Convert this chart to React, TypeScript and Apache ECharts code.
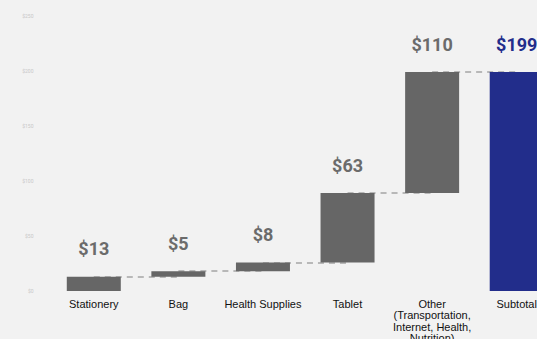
import React, { useEffect, useRef } from "react";
import * as echarts from "echarts";

const categories = [
  "Stationery",
  "Bag",
  "Health Supplies",
  "Tablet",
  "Other\n(Transportation,\nInternet, Health,\nNutrition)",
  "Subtotal",
];
const amounts = [13, 5, 8, 63, 110, 199];
const isTotal = [false, false, false, false, false, true];
const yTicks = [0, 50, 100, 150, 200, 250];

export default function App() {
  const ref = useRef<HTMLDivElement>(null);
  useEffect(() => {
    if (!ref.current) return;
    const chart = echarts.init(ref.current, undefined, { renderer: "svg" });
    const bases: number[] = [];
    let cum = 0;
    amounts.forEach((v, i) => {
      if (isTotal[i]) {
        bases.push(0);
      } else {
        bases.push(cum);
        cum += v;
      }
    });
    const tops = amounts.map((v, i) => bases[i] + v);
    const connectors: any[] = [];
    for (let i = 0; i < categories.length - 1; i++) {
      connectors.push([
        { coord: [i, tops[i]] },
        { coord: [i + 1, tops[i]] },
      ]);
    }
    chart.setOption({
      animation: false,
      backgroundColor: "#f2f2f2",
      grid: {
        left: 51.5,
        right: 0,
        top: 16,
        bottom: 48,
        containLabel: false,
        outerBoundsMode: "none",
      },
      xAxis: {
        type: "category",
        data: categories,
        axisLine: { show: false },
        axisTick: { show: false },
        axisLabel: {
          interval: 0,
          color: "#111",
          fontFamily: "Liberation Sans, Arial, sans-serif",
          fontSize: 11,
          lineHeight: 11.5,
          margin: 7,
        },
      },
      yAxis: {
        type: "value",
        min: yTicks[0],
        max: yTicks[yTicks.length - 1],
        interval: 50,
        splitLine: { show: false },
        axisLine: { show: false },
        axisTick: { show: false },
        axisLabel: {
          formatter: (v: number) => "$" + v,
          color: "#c8c8c8",
          fontSize: 5,
          margin: 18,
          fontFamily: "Roboto, sans-serif",
        },
      },
      series: [
        {
          type: "bar",
          stack: "wf",
          data: bases,
          itemStyle: { color: "transparent" },
          silent: true,
          barWidth: 54,
          markLine: {
            silent: true,
            symbol: "none",
            label: { show: false },
            lineStyle: { type: [6, 5], color: "#b8b8b8", width: 2 },
            data: connectors,
            z: 1,
          },
        },
        {
          type: "bar",
          stack: "wf",
          z: 3,
          barWidth: 54,
          data: amounts.map((v, i) => ({
            value: v,
            itemStyle: { color: isTotal[i] ? "#222d8b" : "#666666" },
            label: { color: isTotal[i] ? "#222d8b" : "#6b6b6b" },
          })),
          label: {
            show: true,
            position: "top",
            distance: 19,
            formatter: (p: any) => "$" + p.value,
            fontFamily: "Roboto, sans-serif",
            fontWeight: "bold",
            fontSize: 18,
          },
        },
      ],
    });
    return () => chart.dispose();
  }, []);
  return (
    <div style={{ position: "fixed", left: 0, top: 0, width: 537, height: 339, overflow: "hidden" }}>
      <div ref={ref} style={{ width: 559, height: 339 }} />
    </div>
  );
}
